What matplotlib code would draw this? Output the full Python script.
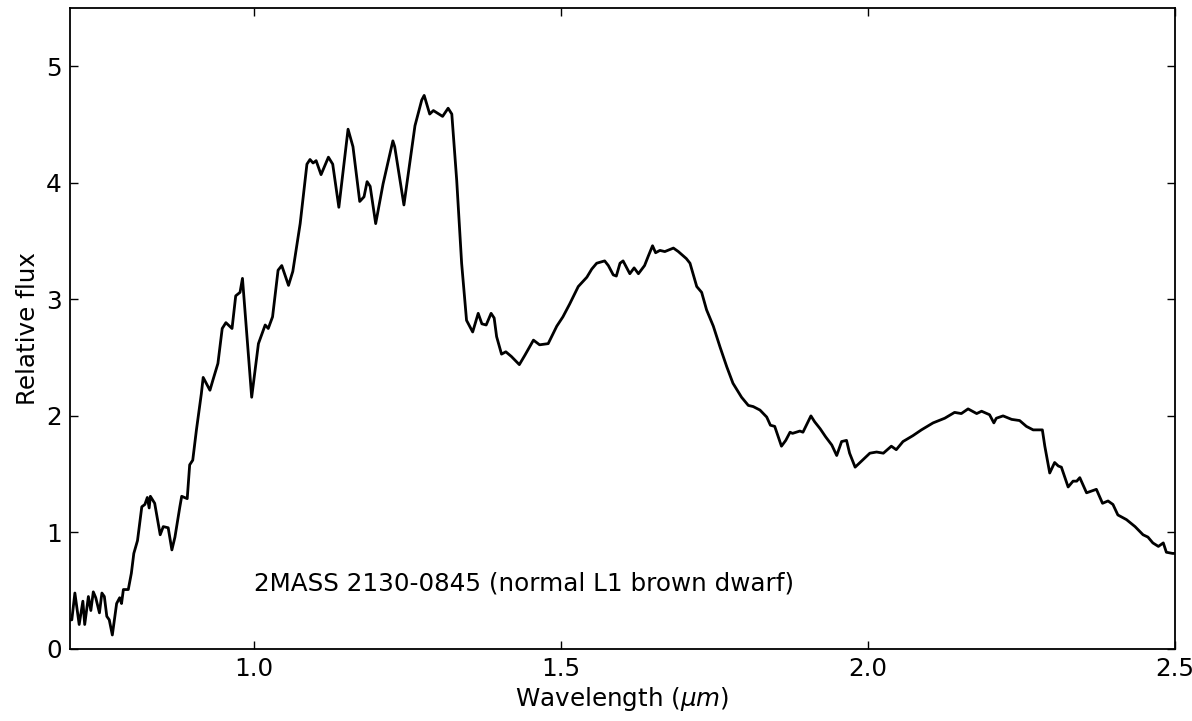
import matplotlib
matplotlib.use('Agg')
import matplotlib.pyplot as plt
from matplotlib.ticker import MultipleLocator

# spectrum (wavelength in micron, relative flux)
wave = [0.700, 0.703, 0.708, 0.715, 0.721, 0.724, 0.730, 0.734, 0.738, 0.742,
        0.748, 0.752, 0.756, 0.760, 0.764, 0.769, 0.776, 0.781, 0.784, 0.787,
        0.795, 0.800, 0.804, 0.810, 0.817, 0.822, 0.826, 0.829, 0.831, 0.838,
        0.847, 0.852, 0.860, 0.866, 0.871, 0.879, 0.882, 0.891, 0.895, 0.900,
        0.906, 0.914, 0.917, 0.928, 0.933, 0.941, 0.948, 0.954, 0.964, 0.970,
        0.977, 0.981, 0.996, 1.007, 1.018, 1.023, 1.030, 1.039, 1.045, 1.056,
        1.063, 1.075, 1.086, 1.091, 1.096, 1.101, 1.109, 1.121, 1.128, 1.138,
        1.153, 1.161, 1.172, 1.179, 1.184, 1.189, 1.198, 1.210, 1.226, 1.229,
        1.244, 1.262, 1.273, 1.277, 1.286, 1.292, 1.307, 1.316, 1.322, 1.330,
        1.338, 1.346, 1.356, 1.365, 1.371, 1.378, 1.386, 1.391, 1.395, 1.403,
        1.410, 1.419, 1.432, 1.441, 1.455, 1.465, 1.479, 1.493, 1.503, 1.514,
        1.528, 1.542, 1.550, 1.558, 1.571, 1.577, 1.585, 1.590, 1.596, 1.601,
        1.612, 1.619, 1.626, 1.636, 1.642, 1.649, 1.654, 1.661, 1.669, 1.683,
        1.691, 1.704, 1.710, 1.721, 1.729, 1.737, 1.748, 1.759, 1.770, 1.780,
        1.794, 1.805, 1.813, 1.824, 1.835, 1.841, 1.848, 1.859, 1.866, 1.873,
        1.877, 1.889, 1.894, 1.907, 1.913, 1.922, 1.931, 1.941, 1.949, 1.957,
        1.965, 1.970, 1.979, 1.989, 2.003, 2.014, 2.025, 2.038, 2.046, 2.057,
        2.073, 2.087, 2.106, 2.125, 2.141, 2.152, 2.163, 2.177, 2.185, 2.198,
        2.205, 2.209, 2.220, 2.234, 2.247, 2.258, 2.269, 2.284, 2.288, 2.296,
        2.304, 2.310, 2.315, 2.326, 2.334, 2.340, 2.345, 2.356, 2.372, 2.382,
        2.391, 2.399, 2.407, 2.421, 2.435, 2.448, 2.456, 2.464, 2.473, 2.481,
        2.486, 2.496, 2.500]
flux = [0.25, 0.25, 0.48, 0.21, 0.41, 0.21, 0.45, 0.33, 0.49, 0.44,
        0.31, 0.48, 0.45, 0.28, 0.25, 0.12, 0.39, 0.44, 0.39, 0.51,
        0.51, 0.65, 0.82, 0.93, 1.22, 1.24, 1.30, 1.21, 1.31, 1.25,
        0.98, 1.05, 1.04, 0.85, 0.96, 1.22, 1.31, 1.29, 1.58, 1.62,
        1.88, 2.19, 2.33, 2.22, 2.31, 2.45, 2.75, 2.80, 2.75, 3.03,
        3.06, 3.18, 2.16, 2.62, 2.78, 2.75, 2.85, 3.25, 3.29, 3.12,
        3.24, 3.65, 4.16, 4.20, 4.17, 4.19, 4.07, 4.22, 4.16, 3.79,
        4.46, 4.31, 3.84, 3.88, 4.01, 3.97, 3.65, 3.99, 4.36, 4.31,
        3.81, 4.49, 4.71, 4.75, 4.59, 4.62, 4.57, 4.64, 4.59, 4.02,
        3.31, 2.82, 2.72, 2.88, 2.79, 2.78, 2.88, 2.84, 2.68, 2.53,
        2.55, 2.51, 2.44, 2.52, 2.65, 2.61, 2.62, 2.77, 2.85, 2.96,
        3.11, 3.19, 3.26, 3.31, 3.33, 3.29, 3.21, 3.20, 3.31, 3.33,
        3.22, 3.27, 3.22, 3.29, 3.37, 3.46, 3.40, 3.42, 3.41, 3.44,
        3.41, 3.35, 3.31, 3.11, 3.06, 2.91, 2.77, 2.59, 2.42, 2.28,
        2.16, 2.09, 2.08, 2.05, 1.99, 1.92, 1.91, 1.74, 1.79, 1.86,
        1.85, 1.87, 1.86, 2.00, 1.95, 1.89, 1.82, 1.75, 1.66, 1.78,
        1.79, 1.68, 1.56, 1.61, 1.68, 1.69, 1.68, 1.74, 1.71, 1.78,
        1.83, 1.88, 1.94, 1.98, 2.03, 2.02, 2.06, 2.02, 2.04, 2.01,
        1.94, 1.98, 2.00, 1.97, 1.96, 1.91, 1.88, 1.88, 1.74, 1.51,
        1.60, 1.57, 1.56, 1.39, 1.44, 1.44, 1.47, 1.34, 1.37, 1.25,
        1.27, 1.24, 1.15, 1.11, 1.05, 0.98, 0.96, 0.91, 0.88, 0.91,
        0.83, 0.82, 0.82]

label = '2MASS 2130-0845 (normal L1 brown dwarf)'

plt.rcParams['font.family'] = ['DejaVu Sans']
fs = 17.7

fig = plt.figure(figsize=(11.92, 7.21), dpi=100)
ax = fig.add_axes([0.0587, 0.0999, 0.9270, 0.8890])

ax.plot(wave, flux, color='k', linewidth=2)
ax.text(1.0, 0.5, label, fontsize=fs)

ax.set_xlim(0.7, 2.5)
ax.set_ylim(0, 5.5)
ax.xaxis.set_major_locator(MultipleLocator(0.5))
ax.yaxis.set_major_locator(MultipleLocator(1))
ax.tick_params(direction='in', top=True, right=True, length=6, width=1,
               labelsize=fs, pad=6)
for s in ax.spines.values():
    s.set_linewidth(1.3)

ax.set_xlabel(r'Wavelength ($\mu m$)', fontsize=fs, labelpad=3)
ax.set_ylabel('Relative flux', fontsize=fs)

fig.savefig('out.png', dpi=100, facecolor='white')
